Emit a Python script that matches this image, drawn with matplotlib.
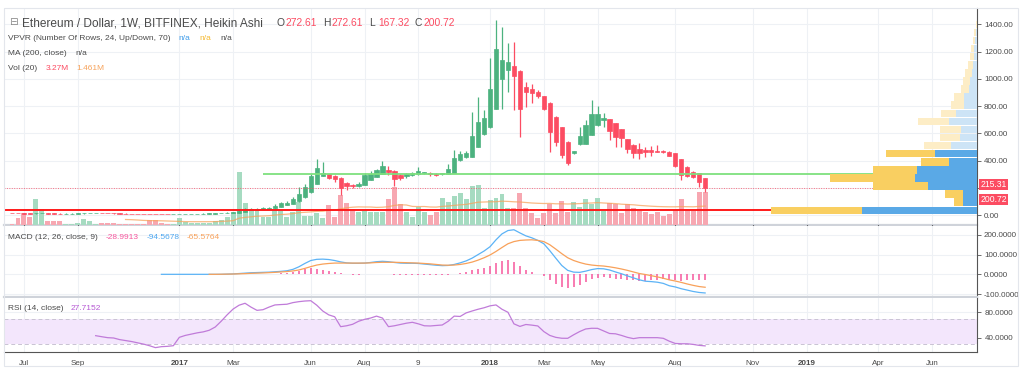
import numpy as np
import pandas as pd
import matplotlib
matplotlib.use("Agg")
import matplotlib.pyplot as plt
import matplotlib.dates as mdates
from matplotlib.patches import Rectangle
from matplotlib.ticker import FormatStrFormatter, FuncFormatter

plt.rcParams['font.family'] = ['Liberation Sans', 'DejaVu Sans']

# weekly Heikin Ashi bars, first bar week of 2016-06-20
first_week = "2016-06-20"
ha_open = [14.5, 13.7, 13.0, 12.2, 11.7, 12.2, 12.8, 11.9, 11.2, 11.0,
           11.0, 11.2, 11.5, 12.0, 12.5, 12.6, 12.4, 12.1, 11.8, 11.4,
           11.1, 10.7, 10.3, 10.0, 9.3, 8.6, 8.2, 7.8, 7.8, 8.6,
           9.4, 10.0, 10.3, 10.7, 11.3, 12.0, 12.9, 14.5, 17.0, 24.0,
           34.0, 40.0, 43.0, 46.0, 49.0, 58.0, 73.0, 82.0, 100.0, 129.0,
           167.0, 228.0, 288.0, 298.0, 285.0, 275.0, 236.0, 217.0, 214.0, 221.0,
           257.0, 281.0, 305.0, 331.0, 324.0, 293.0, 285.0, 293.0, 299.0, 309.0,
           311.0, 304.0, 299.0, 303.0, 311.0, 404.0, 428.0, 428.0, 502.0, 595.0,
           644.0, 780.0, 999.0, 1065.0, 1094.0, 1060.0, 938.0, 925.0, 906.0, 874.0,
           825.0, 722.0, 648.0, 538.0, 457.0, 521.0, 521.0, 587.0, 661.0, 697.0,
           703.0, 673.0, 629.0, 556.0, 514.0, 482.0, 477.0, 476.0, 472.0, 470.0,
           465.0, 453.0, 409.0, 355.0, 318.0, 306.0, 272.61]
ha_high = [14.8, 13.7, 13.0, 12.5, 14.5, 15.0, 13.0, 12.0, 11.5, 11.5,
           11.8, 12.2, 13.5, 13.6, 13.2, 13.0, 12.5, 12.1, 11.9, 11.5,
           11.2, 11.0, 10.4, 10.0, 9.3, 8.6, 8.3, 8.2, 11.0, 11.2,
           11.0, 11.0, 11.5, 13.0, 13.5, 15.5, 19.0, 22.0, 45.0, 53.0,
           53.0, 55.0, 58.0, 56.0, 80.0, 98.0, 100.0, 130.0, 208.0, 230.0,
           300.0, 411.0, 392.0, 300.0, 295.0, 278.0, 244.0, 228.0, 240.0, 310.0,
           320.0, 340.0, 399.0, 360.0, 330.0, 300.0, 310.0, 315.0, 355.0, 318.0,
           314.0, 306.0, 312.0, 374.0, 480.0, 470.0, 470.0, 758.0, 865.0, 771.0,
           1150.0, 1432.0, 1383.0, 1265.0, 1268.0, 1062.0, 979.0, 962.0, 920.0, 876.0,
           830.0, 725.0, 650.0, 540.0, 470.0, 648.0, 700.0, 844.0, 800.0, 747.0,
           705.0, 676.0, 632.0, 560.0, 518.0, 526.0, 502.0, 505.0, 516.0, 480.0,
           468.0, 455.0, 412.0, 358.0, 320.0, 308.0, 272.61]
ha_low = [11.5, 11.5, 10.0, 10.3, 11.0, 12.0, 9.0, 9.5, 10.0, 10.6,
          10.8, 11.0, 11.3, 11.8, 12.1, 11.8, 11.5, 11.0, 10.6, 10.5,
          9.7, 9.5, 9.1, 7.8, 7.5, 7.2, 7.1, 7.3, 7.7, 8.6,
          9.3, 9.9, 10.2, 10.5, 11.0, 12.0, 12.8, 14.5, 17.0, 24.0,
          34.0, 39.0, 42.0, 45.0, 48.0, 58.0, 72.0, 80.0, 99.0, 125.0,
          165.0, 225.0, 285.0, 265.0, 240.0, 147.0, 184.0, 196.0, 205.0, 218.0,
          255.0, 278.0, 300.0, 294.0, 213.0, 255.0, 275.0, 288.0, 296.0, 300.0,
          290.0, 288.0, 295.0, 300.0, 308.0, 400.0, 420.0, 426.0, 500.0, 590.0,
          640.0, 775.0, 776.0, 905.0, 771.0, 575.0, 795.0, 826.0, 860.0, 770.0,
          465.0, 510.0, 420.0, 367.0, 450.0, 515.0, 518.0, 585.0, 655.0, 644.0,
          551.0, 501.0, 502.0, 453.0, 416.0, 409.0, 428.0, 435.0, 460.0, 455.0,
          430.0, 355.0, 257.0, 280.0, 270.0, 208.0, 167.32]
ha_close = [13.0, 12.3, 11.4, 11.3, 12.6, 13.5, 11.0, 10.5, 10.8, 11.0,
            11.4, 11.9, 12.6, 12.9, 12.7, 12.3, 11.9, 11.5, 11.1, 10.9,
            10.4, 10.0, 9.7, 8.7, 8.0, 7.9, 7.5, 7.9, 9.4, 10.2,
            10.5, 10.6, 11.0, 12.0, 12.8, 13.7, 16.0, 19.5, 31.0, 44.0,
            47.0, 46.0, 50.0, 52.0, 68.0, 88.0, 90.0, 118.0, 158.0, 205.0,
            290.0, 345.0, 312.0, 272.0, 266.0, 198.0, 210.0, 212.0, 228.0, 294.0,
            305.0, 328.0, 360.0, 318.0, 262.0, 273.0, 302.0, 308.0, 322.0, 314.0,
            298.0, 296.0, 307.0, 338.0, 416.0, 450.0, 457.0, 580.0, 685.0, 710.0,
            923.0, 1217.0, 1138.0, 1123.0, 1023.0, 780.0, 900.0, 893.0, 877.0, 776.0,
            612.0, 538.0, 440.0, 384.0, 468.0, 580.0, 658.0, 741.0, 741.0, 710.0,
            619.0, 575.0, 568.0, 482.0, 453.0, 457.0, 465.0, 466.0, 462.0, 462.0,
            435.0, 360.0, 294.0, 286.0, 281.0, 245.0, 200.72]

# volume in millions, and its 20-week average
volume = [0.1, 0.7, 1.2, 0.8, 2.6, 1.6, 0.4, 0.4, 0.4, 0.1,
          0.1, 0.2, 0.6, 0.4, 0.1, 0.2, 0.2, 0.2, 0.1, 0.1,
          0.1, 0.1, 0.1, 0.5, 0.5, 0.2, 0.1, 0.1, 0.7, 0.3,
          0.2, 0.2, 0.2, 0.2, 0.4, 0.5, 0.8, 1.2, 5.3, 2.2,
          1.6, 1.6, 0.8, 0.8, 1.5, 1.4, 0.8, 1.3, 2.3, 0.9,
          0.9, 1.2, 0.7, 2.0, 0.8, 3.0, 2.2, 1.6, 1.3, 1.4,
          1.3, 1.3, 1.3, 2.6, 3.8, 2.1, 1.3, 0.8, 1.8, 1.3,
          1.0, 1.3, 2.7, 2.3, 2.9, 3.2, 2.6, 3.9, 4.0, 1.7,
          2.5, 2.7, 3.1, 1.7, 1.7, 3.2, 1.7, 1.2, 0.7, 1.2,
          2.1, 1.2, 2.4, 1.3, 2.3, 1.8, 2.6, 2.1, 2.7, 1.4,
          2.2, 2.1, 1.2, 2.1, 1.7, 1.4, 1.3, 1.1, 1.3, 0.9,
          1.1, 1.5, 2.6, 1.5, 1.4, 3.3, 3.27]
vol_ma = [np.nan] * 19 + [
    0.55, 0.53, 0.50, 0.46, 0.44, 0.43, 0.42, 0.40, 0.38, 0.36,
    0.34, 0.33, 0.33, 0.33, 0.33, 0.34, 0.36, 0.39, 0.43,
    0.68, 0.76, 0.82, 0.88, 0.90, 0.93, 0.99, 1.05, 1.08, 1.14,
    1.23, 1.27, 1.31, 1.36, 1.38, 1.46, 1.49, 1.62, 1.72, 1.78,
    1.81, 1.80, 1.80, 1.76, 1.78, 1.83, 1.96, 2.02, 2.00, 1.86,
    1.84, 1.85, 1.80, 1.79, 1.86, 1.90, 1.96, 2.02, 2.06, 2.17,
    2.28, 2.30, 2.32, 2.33, 2.38, 2.36, 2.32, 2.30, 2.25, 2.20,
    2.17, 2.15, 2.16, 2.12, 2.12, 2.10, 2.12, 2.14, 2.18, 2.20,
    2.24, 2.20, 2.17, 2.14, 2.08, 2.05, 2.02, 1.96, 1.92, 1.88,
    1.85, 1.83, 1.82, 1.82, 1.84, 1.83, 1.82, 1.86, 1.89]

# MACD (12, 26, 9)
macd_line = [np.nan] * 25 + [
    0, 0, 0, 0, 0, 0, 0, 0, 0, 0, 0, 1,
    2, 4, 6, 8, 9, 10, 11, 13, 15, 18,
    25, 38, 55, 70, 76, 77, 75, 70, 63, 58,
    56, 56, 57, 60, 64, 66, 64, 60, 57, 56,
    56, 55, 52, 49, 46, 44, 45, 50, 58, 68,
    82, 100, 118, 140, 175, 205, 222, 226, 210, 195,
    185, 172, 155, 120, 82, 45, 20, 11, 10, 16,
    24, 29, 28, 22, 12, 3, -8, -18, -28, -35,
    -37, -40, -46, -58, -64, -73, -80, -87, -92, -94.5678]
signal_line = [np.nan] * 33 + [
    0, 0, 0.5, 1, 1.5, 2.5, 3.5, 5, 6, 7,
    8.5, 10, 12, 14, 17, 22, 30, 39, 47, 52,
    55, 57, 57, 57, 57, 57, 57, 58, 60, 61,
    61, 61, 60, 59, 58, 57, 55, 53, 50, 47,
    46, 47, 50, 55, 62, 72, 84, 98, 116, 136,
    155, 166, 172, 174, 175, 172, 166, 150, 128, 105,
    84, 70, 60, 52, 47, 44, 42, 38, 33, 27,
    20, 12, 4, -1, -7, -13, -20, -28, -34, -41,
    -49, -56, -62, -65.5764]
macd_hist = [np.nan] * 33 + [
    0, 0, 0, 1, 1, 2, 2, 3, 3, 3,
    3, 4, 5, 7, 10, 16, 25, 31, 29, 24,
    18, 12, 6, 1, -1, -2, 0, 2, 3, 4,
    3, -1, -3, -3, -2, -2, -3, -4, -5, -4,
    -2, 3, 8, 13, 20, 28, 34, 42, 59, 69,
    72, 62, 40, 22, 10, 0, -11, -30, -48, -62,
    -70, -64, -55, -38, -26, -17, -16, -17, -22, -24,
    -28, -30, -33, -34, -30, -27, -26, -30, -30, -32,
    -31, -31, -30, -28.9913]

# RSI (14)
rsi_values = [np.nan] * 14 + [
    43.6, 42, 40.5, 40, 37.5, 36, 34.5, 32.5, 30.5, 28,
    25, 26.5, 27, 28, 41, 44, 46, 48, 49.5, 52,
    57, 66, 76, 85, 91, 94, 88, 83, 84, 88,
    91.4, 92, 92.5, 95, 96.5, 97.5, 98, 91, 82, 76,
    73, 57.6, 59, 61.3, 66, 69, 71, 74, 71, 57.6,
    59, 61, 63, 64.4, 62, 59, 58.7, 59.5, 60.2, 66,
    74, 73.5, 79, 82, 84.7, 87, 90, 91.4, 84.7, 80,
    62, 58, 61, 60, 58.7, 50, 44, 41, 39.6, 39.5,
    45, 50, 54, 55.1, 55, 51, 47, 46.5, 44, 41,
    39, 40.5, 40.5, 40.5, 40.5, 39.5, 35, 31.5, 31, 31,
    30, 28.5, 27.7152]

# visible range volume profile, 24 rows from the lowest low to the highest high
vp_up = [11.5, 1.4, 1.4, 4.9, 6.2, 6.0, 2.8, 4.2, 2.6, 1.7, 1.6, 2.8,
         2.1, 1.3, 1.3, 0.85, 0.68, 0.5, 0.43, 0.33, 0.27, 0.17, 0.1, 0.05]
vp_down = [9.1, 0.9, 1.8, 5.5, 8.5, 4.4, 2.8, 4.9, 2.7, 2.0, 2.1, 3.1,
           1.5, 1.3, 1.0, 0.73, 0.73, 0.67, 0.47, 0.33, 0.3, 0.23, 0.17, 0.1]
va_rows = 8

# drawn levels
green_level = 299
green_from = "2017-04-10"
red_level = 34
last_price = 215.31

tick_dates = ['2016-07-04', '2016-09-05', '2017-01-02', '2017-03-06', '2017-06-05',
              '2017-08-07', '2017-10-09', '2018-01-01', '2018-03-05', '2018-05-07',
              '2018-08-06', '2018-11-05', '2019-01-07', '2019-04-01', '2019-06-03']
tick_labels = ['Jul', 'Sep', '2017', 'Mar', 'Jun', 'Aug', '9', '2018', 'Mar', 'May',
               'Aug', 'Nov', '2019', 'Apr', 'Jun']

UP, DOWN = '#4cb27f', '#fc4c62'
UP_VOL, DOWN_VOL = '#a6dbc1', '#f7a7b1'
GRID = '#eef1f5'
TXT = '#4a4a4a'

W, H = 1024, 370
fig = plt.figure(figsize=(W / 100, H / 100), dpi=100)


def rect(x0, y0, x1, y1):
    return [x0 / W, 1 - y1 / H, (x1 - x0) / W, (y1 - y0) / H]


def ftext(px, py, s, **kw):
    kw.setdefault('color', TXT)
    kw.setdefault('fontsize', 6.0)
    fig.text(px / W, 1 - py / H, s, va='center', ha='left', **kw)


dates = pd.date_range(first_week, periods=len(ha_close), freq='W-MON')
x = mdates.date2num(dates)
o = np.array(ha_open)
h = np.array(ha_high)
l = np.array(ha_low)
c = np.array(ha_close)
rising = c >= o
colors = np.where(rising, UP, DOWN)
vol_colors = np.where(rising, UP_VOL, DOWN_VOL)
xlim = (x[0] - 9.4, x[0] + 1130.5)
ylim_price = (-73, 1520)

main_rect = rect(4, 8, 977, 225)
gax = fig.add_axes(main_rect)
vax = fig.add_axes(main_rect, sharex=gax)
pax = fig.add_axes(main_rect, sharex=gax, sharey=gax)
ax = fig.add_axes(main_rect, sharex=gax, sharey=gax)
mac = fig.add_axes(rect(4, 226, 977, 297), sharex=gax)
rax = fig.add_axes(rect(4, 298, 977, 352), sharex=gax)

for a in (vax, pax, ax):
    a.patch.set_visible(False)
for a in (gax, vax, pax, ax, mac, rax):
    for s in ('top', 'left', 'right', 'bottom'):
        a.spines[s].set_visible(False)
    a.tick_params(left=False, labelleft=False, bottom=False, labelbottom=False)

gax.set_xlim(*xlim)
gax.set_ylim(*ylim_price)
gax.set_xticks(mdates.date2num(pd.to_datetime(tick_dates)))
gax.set_yticks(np.arange(0, 1401, 200))
gax.grid(True, color=GRID, lw=0.8)
gax.tick_params(right=False, labelright=False)

# volume
vax.bar(x, volume, width=5.8, color=vol_colors, lw=0)
vax.plot(x, vol_ma, color='#f7a35c', lw=0.9, alpha=0.75)
vax.set_ylim(0, 21.7)
vax.set_yticks([])

# volume profile
edges = np.linspace(l.min(), h.max(), len(vp_up) + 1)
row_h = edges[1] - edges[0]
up_c = ['#5aa9e6' if i < va_rows else '#cde4f6' for i in range(len(vp_up))]
dn_c = ['#f9cf61' if i < va_rows else '#fdedc6' for i in range(len(vp_up))]
pax2 = pax.twiny()
pax2.patch.set_visible(False)
for s in ('top', 'left', 'right', 'bottom'):
    pax2.spines[s].set_visible(False)
pax2.tick_params(top=False, labeltop=False)
pax2.barh(edges[:-1], vp_up, height=row_h * 0.93, left=0, align='edge', color=up_c, lw=0)
pax2.barh(edges[:-1], vp_down, height=row_h * 0.93, left=vp_up, align='edge', color=dn_c, lw=0)
pax2.set_xlim(97.3, 0)
pax.tick_params(right=False, labelright=False)

# candles
ax.vlines(x, l, h, colors=colors, lw=0.9)
ax.bar(x, np.abs(c - o), bottom=np.minimum(o, c), width=5, color=colors,
       edgecolor=colors, lw=0.5)
ax.hlines(green_level, mdates.date2num(pd.Timestamp(green_from)), xlim[1],
          color='#7ee07e', lw=1.3)
ax.axhline(red_level, color='#ff1a1a', lw=1.4)
ax.axhline(c[-1], color=DOWN, lw=0.7, ls=(0, (1, 1.5)), alpha=0.8)


def price_fmt(v, pos):
    # the axis tick hidden under the last-price labels is not shown
    if abs(v - last_price) < 40:
        return ''
    return f'{v:.2f}'


ax.yaxis.tick_right()
ax.tick_params(right=True, labelright=True, length=3, width=0.6, color='#555',
               labelsize=5.8, labelcolor=TXT, pad=2)
ax.yaxis.set_major_formatter(FuncFormatter(price_fmt))
ax.spines['right'].set_visible(True)
ax.spines['right'].set_color('#555')
ax.spines['right'].set_linewidth(0.8)
gax.spines['bottom'].set_visible(True)
gax.spines['bottom'].set_color('#cfd3da')
gax.spines['bottom'].set_linewidth(1.6)

# price labels on the axis, the second pushed down so they do not collide
bbox_red = dict(boxstyle='square,pad=0.15', fc=DOWN, ec='none')
ax.annotate(f'{last_price:.2f}', xy=(1, last_price), xycoords=('axes fraction', 'data'),
            xytext=(2.5, 0.8), textcoords='offset points', va='center', ha='left',
            fontsize=6.2, color='white', bbox=bbox_red, zorder=10, annotation_clip=False)
ax.annotate(f'{c[-1]:.2f}', xy=(1, c[-1]), xycoords=('axes fraction', 'data'),
            xytext=(2.5, -8.6), textcoords='offset points', va='center', ha='left',
            fontsize=6.2, color='white', bbox=bbox_red, zorder=10, annotation_clip=False)

# MACD panel
mac.set_ylim(-115, 245)
mac.vlines(x, 0, macd_hist, colors='#f6579d', lw=1.1)
mac.plot(x, macd_line, color='#5cb3f6', lw=0.9)
mac.plot(x, signal_line, color='#f8a15a', lw=0.9)
mac.set_yticks([200, 100, 0, -100])
mac.yaxis.set_major_formatter(FormatStrFormatter('%.4f'))
mac.grid(True, color=GRID, lw=0.8)
mac.yaxis.tick_right()
mac.tick_params(right=True, labelright=True, length=3, width=0.6, color='#555',
                labelsize=5.8, labelcolor=TXT, pad=2)
mac.spines['right'].set_visible(True)
mac.spines['right'].set_color('#555')
mac.spines['right'].set_linewidth(0.8)
mac.spines['bottom'].set_visible(True)
mac.spines['bottom'].set_color('#cfd3da')
mac.spines['bottom'].set_linewidth(1.6)

# RSI panel
rax.set_ylim(18.2, 102.2)
rax.axhspan(30, 70, color='#f3e6fc', lw=0)
rax.axhline(70, color='#c9c3d3', lw=0.7, ls=(0, (4, 3)))
rax.axhline(30, color='#c9c3d3', lw=0.7, ls=(0, (4, 3)))
rax.plot(x, rsi_values, color='#c07bd9', lw=0.9)
rax.set_yticks([80, 40])
rax.yaxis.set_major_formatter(FormatStrFormatter('%.4f'))
rax.grid(True, color=GRID, lw=0.8)
rax.set_axisbelow(True)
rax.yaxis.tick_right()
rax.tick_params(right=True, labelright=True, length=3, width=0.6, color='#555',
                labelsize=5.8, labelcolor=TXT, pad=2)
rax.tick_params(bottom=False, labelbottom=True, labelsize=5.8, labelcolor=TXT, pad=2.5)
rax.set_xticklabels(tick_labels)
for t in rax.get_xticklabels():
    if t.get_text().isdigit() and len(t.get_text()) == 4:
        t.set_fontweight('bold')
for s in ('right', 'bottom'):
    rax.spines[s].set_visible(True)
    rax.spines[s].set_color('#555')
    rax.spines[s].set_linewidth(0.8)

# legends
ftext(9, 22, '\u229f', fontsize=7.5, color='#888', family='DejaVu Sans')
ftext(21.5, 23, 'Ethereum / Dollar, 1W, BITFINEX, Heikin Ashi', fontsize=8.6)
ohlc = [('O', ha_open[-1], 276.5), ('H', ha_high[-1], 323.0),
        ('L', ha_low[-1], 369.5), ('C', ha_close[-1], 414.5)]
for key, val, px0 in ohlc:
    ftext(px0, 23, key, fontsize=7.4)
    ftext(px0 + 8.5, 23, f'{val:.2f}', fontsize=7.4, color=DOWN)

ftext(7.5, 39, 'VPVR (Number Of Rows, 24, Up/Down, 70)')
ftext(178, 39, 'n/a', color='#3d9be9')
ftext(199.5, 39, 'n/a', color='#f5b82e')
ftext(220, 39, 'n/a')
ftext(7.5, 53.5, 'MA (200, close)')
ftext(75, 53.5, 'n/a')
ftext(7.5, 68, 'Vol (20)')
ftext(45.5, 68, f'{volume[-1]:.2f}M', color=DOWN)
ftext(76, 68, '1.461M', color='#f7a35c')

ftext(7.5, 237.5, 'MACD (12, 26, close, 9)')
ftext(105.5, 237.5, f'{macd_hist[-1]:.4f}', color='#f6579d')
ftext(146.5, 237.5, f'{macd_line[-1]:.4f}', color='#4fa8f0')
ftext(187, 237.5, f'{signal_line[-1]:.4f}', color='#f8a15a')

ftext(7.5, 309, 'RSI (14, close)')
ftext(70.5, 309, f'{rsi_values[-1]:.4f}', color='#b659d4')

fig.patches.append(Rectangle((4 / W, 1 - 366 / H), 1014 / W, 358 / H, transform=fig.transFigure,
                             fill=False, ec='#e3e6ec', lw=0.8))

fig.savefig('out.png', dpi=100)
